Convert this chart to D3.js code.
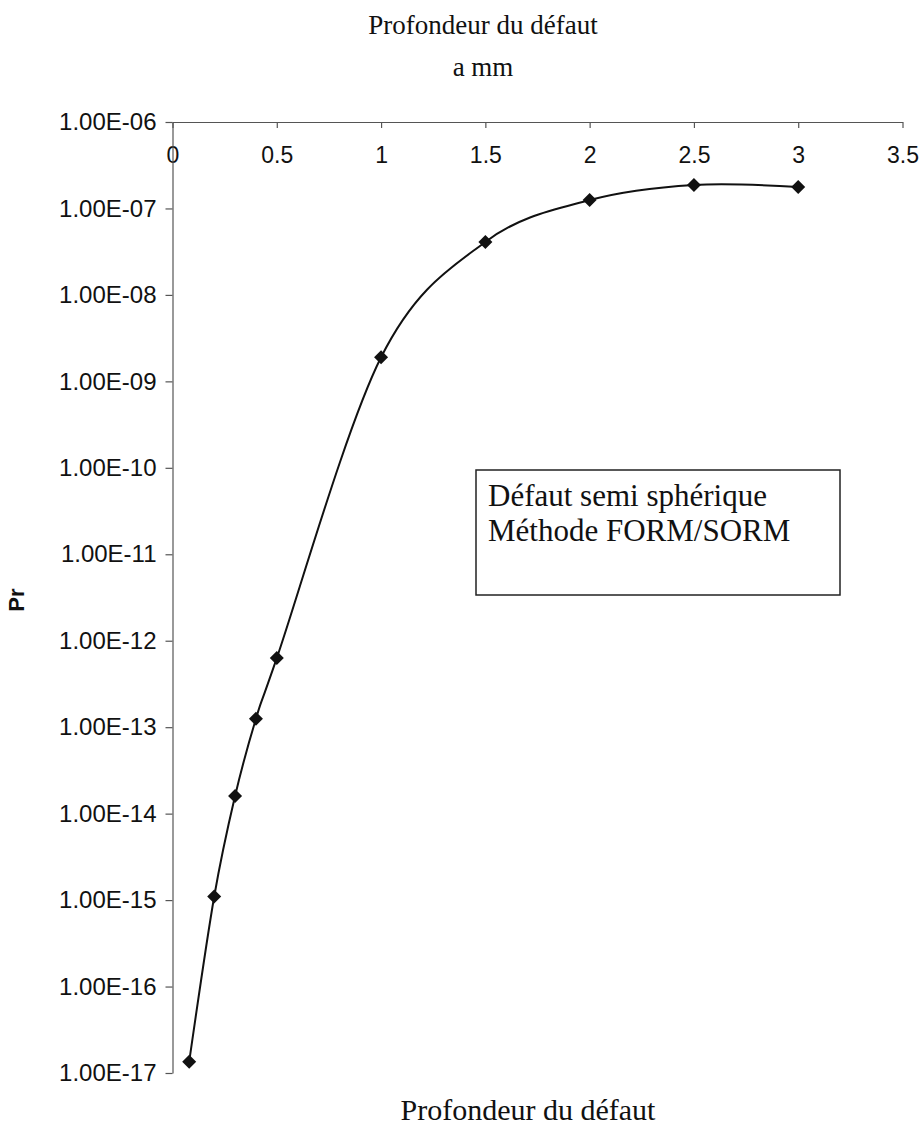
<!DOCTYPE html>
<html>
<head>
<meta charset="utf-8">
<script src="https://cdn.jsdelivr.net/npm/d3@7/dist/d3.min.js"></script>
<style>
  html, body { margin: 0; padding: 0; background: #fff; }
  svg { display: block; }
</style>
</head>
<body>
<svg id="chart" width="922" height="1136"></svg>
<script>
// ---- data ----
const depth = [0.08, 0.2, 0.3, 0.4, 0.5, 1, 1.5, 2, 2.5, 3];
const prob = [1.35e-17, 1.1e-15, 1.6e-14, 1.25e-13, 6.3e-13, 1.9e-9, 4.1e-8, 1.25e-7, 1.87e-7, 1.77e-7];
const xTicks = [0, 0.5, 1, 1.5, 2, 2.5, 3, 3.5];
const yTicks = [1e-6, 1e-7, 1e-8, 1e-9, 1e-10, 1e-11, 1e-12, 1e-13, 1e-14, 1e-15, 1e-16, 1e-17];
const titleTop = "Profondeur du défaut";
const unitText = "a mm";
const titleBottom = "Profondeur du défaut";
const yLabel = "Pr";
const legendLines = ["Défaut semi sphérique", "Méthode FORM/SORM"];

// ---- layout ----
const svg = d3.select("#chart");
const pLeft = 172.5, pRight = 902.5, pTop = 122, pBottom = 1073;

const x = d3.scaleLinear().domain([0, 3.5]).range([pLeft, pRight]);
const y = d3.scaleLog().domain([1e-17, 1e-6]).range([pBottom, pTop]);

const axisColor = "#555";
const sans = "Liberation Sans, Arial, sans-serif";
const serif = "Liberation Serif, Times New Roman, serif";

// x axis at top
const xAxis = svg.append("g").attr("transform", `translate(0,${pTop})`)
  .call(d3.axisBottom(x).tickValues(xTicks).tickSize(6).tickSizeOuter(0)
    .tickFormat(d => String(d)));
xAxis.select(".domain").attr("stroke", axisColor).attr("stroke-width", 1.2);
xAxis.selectAll(".tick line").attr("stroke", axisColor).attr("stroke-width", 1.2);
xAxis.selectAll(".tick text")
  .attr("font-family", sans)
  .attr("font-size", 23).attr("fill", "#111")
  .attr("y", 25);

// y axis at left
const yAxis = svg.append("g").attr("transform", `translate(${pLeft},0)`)
  .call(d3.axisLeft(y).tickValues(yTicks).tickSize(7).tickSizeOuter(0)
    .tickFormat(d => {
      const e = Math.round(Math.log10(d));
      return "1.00E-" + String(-e).padStart(2, "0");
    }));
yAxis.select(".domain").attr("stroke", axisColor).attr("stroke-width", 1.2);
yAxis.selectAll(".tick line").attr("stroke", axisColor).attr("stroke-width", 1.2);
yAxis.selectAll(".tick text")
  .attr("font-family", sans)
  .attr("font-size", 24).attr("fill", "#111")
  .attr("x", -16);

// curve
const pts = depth.map((d, i) => [x(d), y(prob[i])]);
svg.append("path")
  .attr("d", d3.line().curve(d3.curveCatmullRom.alpha(0))(pts))
  .attr("fill", "none").attr("stroke", "#111").attr("stroke-width", 2);

// markers (diamonds)
svg.selectAll(".mk").data(depth).enter().append("path")
  .attr("class", "mk")
  .attr("transform", (d, i) => `translate(${x(d)},${y(prob[i])})`)
  .attr("d", "M0,-7L7,0L0,7L-7,0Z")
  .attr("fill", "#111");

// titles
svg.append("text").attr("x", 483).attr("y", 34).attr("text-anchor", "middle")
  .attr("font-family", serif).attr("font-size", 27).attr("fill", "#111").text(titleTop);
svg.append("text").attr("x", 483).attr("y", 76).attr("text-anchor", "middle")
  .attr("font-family", serif).attr("font-size", 27).attr("fill", "#111").text(unitText);
svg.append("text").attr("x", 528).attr("y", 1120).attr("text-anchor", "middle")
  .attr("font-family", serif).attr("font-size", 30).attr("fill", "#111").text(titleBottom);

// y label
svg.append("text").attr("transform", "translate(24,600) rotate(-90)")
  .attr("text-anchor", "middle")
  .attr("font-family", sans)
  .attr("font-weight", "bold").attr("font-size", 22).attr("fill", "#111").text(yLabel);

// legend box
const lg = svg.append("g");
lg.append("rect").attr("x", 476).attr("y", 470).attr("width", 364).attr("height", 125)
  .attr("fill", "none").attr("stroke", "#222").attr("stroke-width", 1.5);
lg.selectAll("text").data(legendLines).enter().append("text")
  .attr("x", 488).attr("y", (d, i) => 506 + i * 35)
  .attr("font-family", serif).attr("font-size", 31).attr("fill", "#111")
  .text(d => d);
</script>
</body>
</html>
